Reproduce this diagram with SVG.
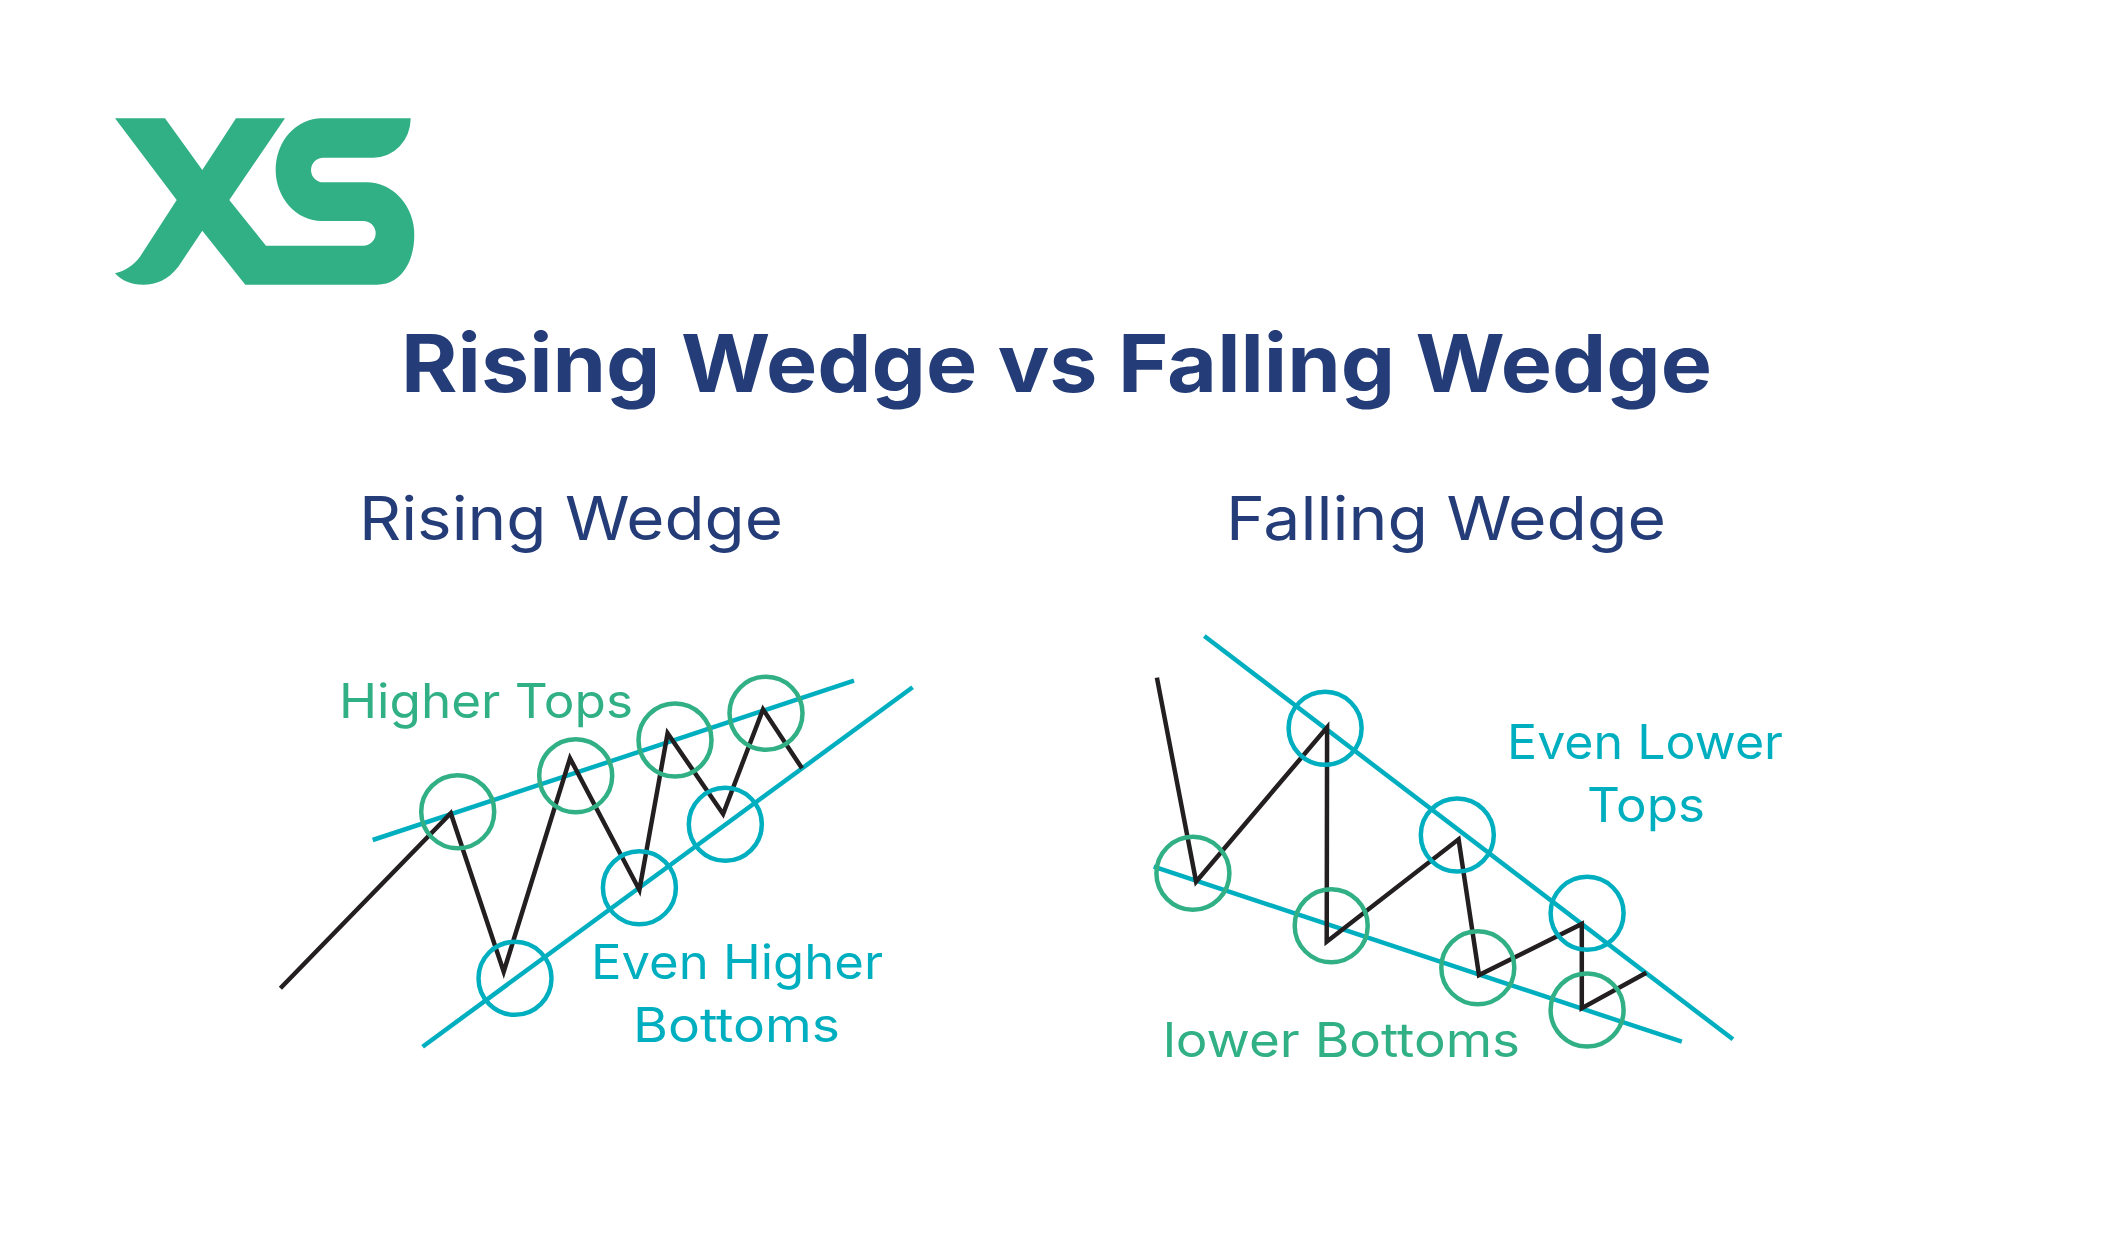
<svg xmlns="http://www.w3.org/2000/svg" width="2112" height="1246" viewBox="0 0 2112 1246">
<style>
text{font-family:"Inter","Open Sans","Liberation Sans",sans-serif}
.title{font-size:80px;font-weight:700;fill:#243c78}
.sub{font-size:60px;font-weight:400;fill:#243c78}
.lab{font-size:48px;font-weight:400}
.g{fill:#31b085}
.t{fill:#00afbf}
.tl{fill:none;stroke:#00afbf;stroke-width:4.5}
.bk{fill:none;stroke:#231f20;stroke-width:4.5;stroke-linejoin:miter}
.cg{fill:none;stroke:#31b085;stroke-width:4.5}
.ct{fill:none;stroke:#00afbf;stroke-width:4.5}
</style>
<rect width="2112" height="1246" fill="#fff"/>
<g id="logo"><path fill="#31b085" d="M115 118.3H165L202.3 170L236 118.3H285L229.3 200L266 245.7H363.3A12.3 12.3 0 0 0 363.3 221H321.7A46 51.3 0 0 1 321.7 118.3H410.7A37.4 39.4 0 0 1 373.3 157.7H323.3A12.3 12.3 0 0 0 323.3 182.3H366.7A47.6 52.7 0 0 1 414.3 235C414.3 262 401 284.7 376.7 284.7H245.3L202.3 230.7L178.3 266.7C168 280 156 284.7 143.3 284.7C131 284.7 122 281 115 273.3C125 271 134 265 140 256.7L176.7 200Z"/></g>
<text id="title" class="title" x="401" y="392" textLength="1311" lengthAdjust="spacingAndGlyphs">Rising Wedge vs Falling Wedge</text>
<text id="rising-heading" class="sub" x="359" y="539.5" textLength="424" lengthAdjust="spacingAndGlyphs">Rising Wedge</text>
<text id="falling-heading" class="sub" x="1226" y="539.5" textLength="440" lengthAdjust="spacingAndGlyphs">Falling Wedge</text>
<g id="connectors">
<path class="tl" d="M372.7 840L854 680.7"/>
<path class="tl" d="M422.6 1046.7L912.6 687.3"/>
<path class="bk" d="M280.4 988.3L450.8 813.3L503.7 971.7L570 758.3L639.4 890L667.6 733.3L723.1 814L763 709.3L802 768.3"/>
<path class="tl" d="M1204.3 636L1732.9 1039.3"/>
<path class="tl" d="M1153.7 866.7L1681.8 1041.7"/>
<path class="bk" d="M1156.9 677.7L1196.1 881.7L1327.1 727.3L1326.7 941.7L1458.6 839.3L1479 975L1581.8 924V1008.3L1646.3 972.7"/>
</g>
<g id="rising-tops">
<circle class="cg" cx="457.7" cy="811.7" r="36.5"/>
<circle class="cg" cx="575.7" cy="775.7" r="36.5"/>
<circle class="cg" cx="675" cy="740" r="36.5"/>
<circle class="cg" cx="766" cy="713.3" r="36.5"/>
</g>
<g id="rising-bottoms">
<circle class="ct" cx="515" cy="978.3" r="36.5"/>
<circle class="ct" cx="639.4" cy="887.7" r="36.5"/>
<circle class="ct" cx="725.3" cy="824.3" r="36.5"/>
</g>
<g id="falling-tops">
<circle class="ct" cx="1325.1" cy="728.3" r="36.5"/>
<circle class="ct" cx="1457.3" cy="835" r="36.5"/>
<circle class="ct" cx="1587.1" cy="913.3" r="36.5"/>
</g>
<g id="falling-bottoms">
<circle class="cg" cx="1192.9" cy="873.3" r="36.5"/>
<circle class="cg" cx="1331.2" cy="925.7" r="36.5"/>
<circle class="cg" cx="1477.8" cy="967.7" r="36.5"/>
<circle class="cg" cx="1587.1" cy="1010" r="36.5"/>
</g>
<text id="higher-tops" class="lab g" x="339" y="718.3" textLength="294" lengthAdjust="spacingAndGlyphs">Higher Tops</text>
<text id="even-higher" class="lab t" x="591" y="979.3" textLength="292" lengthAdjust="spacingAndGlyphs">Even Higher</text>
<text id="bottoms-r" class="lab t" x="633" y="1041.7" textLength="207" lengthAdjust="spacingAndGlyphs">Bottoms</text>
<text id="even-lower" class="lab t" x="1507" y="759.3" textLength="276" lengthAdjust="spacingAndGlyphs">Even Lower</text>
<text id="tops-f" class="lab t" x="1587" y="821.7" textLength="118" lengthAdjust="spacingAndGlyphs">Tops</text>
<text id="lower-bottoms" class="lab g" x="1163" y="1057.3" textLength="357" lengthAdjust="spacingAndGlyphs">lower Bottoms</text>
</svg>
